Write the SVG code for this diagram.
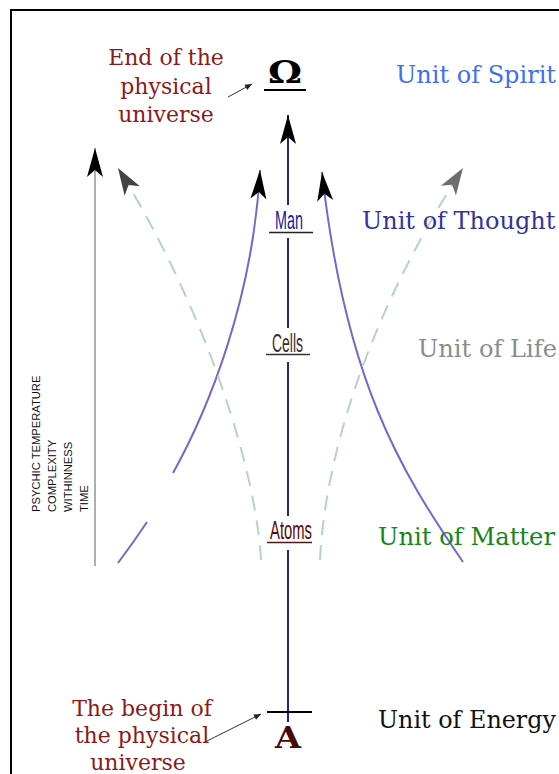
<svg xmlns="http://www.w3.org/2000/svg" width="559" height="774" viewBox="0 0 559 774">
<style>
.serif{font-family:"DejaVu Serif","Liberation Serif",serif}
.lbl{font-family:"DejaVu Serif","Liberation Serif",serif;font-size:22px;fill:#8b1a1a;text-anchor:middle}
.unit{font-family:"DejaVu Serif","Liberation Serif",serif;font-size:24px}
.node{font-family:"Liberation Sans","Arial",sans-serif;font-size:25px}
.axis{font-family:"Liberation Sans","Arial",sans-serif;font-size:11.2px;fill:#111}
.spine{stroke:#2d1e8c;stroke-width:2;fill:none}
.purple{stroke:#7766cc;stroke-width:2;fill:none}
.dash{stroke:#b4d3cb;stroke-width:2;fill:none;stroke-dasharray:15 10}
.thin{stroke:#333;stroke-width:1;fill:none}
</style>
<defs>
<marker id="ahBlack" markerUnits="userSpaceOnUse" viewBox="-30 -10 32 20" markerWidth="32" markerHeight="20" refX="0" refY="0" orient="auto">
<path d="M0,0 L-29,-8 L-22,0 L-29,8 Z" fill="#000"/>
</marker>
<marker id="ahDark" markerUnits="userSpaceOnUse" viewBox="-30 -10 32 20" markerWidth="32" markerHeight="20" refX="0" refY="0" orient="auto">
<path d="M0,0 L-27,-9 L-20,0 L-27,9 Z" fill="#444"/>
</marker>
<marker id="ahGray" markerUnits="userSpaceOnUse" viewBox="-30 -10 32 20" markerWidth="32" markerHeight="20" refX="0" refY="0" orient="auto">
<path d="M0,0 L-27,-9 L-20,0 L-27,9 Z" fill="#6e6e6e"/>
</marker>
<marker id="ahSmall" markerUnits="userSpaceOnUse" viewBox="-8 -4 9 8" markerWidth="9" markerHeight="8" refX="0" refY="0" orient="auto">
<path d="M0,0 L-7,-3 L-7,3 Z" fill="#222"/>
</marker>
</defs>
<rect width="559" height="774" fill="#fff"/>
<path d="M11,774 V10 H559" stroke="#000" stroke-width="2" fill="none"/>

<g id="connectors">
<path class="spine" d="M288,205 V115" marker-end="url(#ahBlack)"/>
<path class="spine" d="M288,238 V328"/>
<path class="spine" d="M288,362 V516"/>
<path class="spine" d="M288,550 V722"/>
<path d="M267,712 H312" stroke="#000" stroke-width="2"/>
<path d="M95,566 V148" stroke="#9a9a9a" stroke-width="1.6" fill="none" marker-end="url(#ahBlack)"/>
<path class="purple" d="M118,563 Q133,543 147,522"/>
<path class="purple" d="M173,473 C208,410 253,300 260,170" marker-end="url(#ahBlack)"/>
<path class="purple" d="M463,562 C400,470 345,380 322,172" marker-end="url(#ahBlack)"/>
<path class="dash" d="M261,560 C255,460 200,300 118,168" marker-end="url(#ahDark)"/>
<path class="dash" d="M320,560 C325,460 365,320 463,168" marker-end="url(#ahGray)"/>
<path class="thin" d="M228,97 L252,84" marker-end="url(#ahSmall)"/>
<path class="thin" d="M205,742 L261,714" marker-end="url(#ahSmall)"/>
</g>

<g id="omega">
<text class="serif" x="285" y="83" font-size="32" font-weight="bold" text-anchor="middle" textLength="34" lengthAdjust="spacingAndGlyphs">Ω</text>
<path d="M264,90 H306" stroke="#000" stroke-width="2"/>
</g>
<g id="alpha">
<text class="serif" x="288" y="748" font-size="29" font-weight="bold" fill="#4a0808" text-anchor="middle" textLength="26" lengthAdjust="spacingAndGlyphs">A</text>
</g>
<g id="man">
<text class="node" x="275" y="229" fill="#1a1a99" textLength="28" lengthAdjust="spacingAndGlyphs">Man</text>
<path d="M269,232.5 H313" stroke="#222" stroke-width="1.5"/>
</g>
<g id="cells">
<text class="node" x="272" y="352" fill="#3a2c2c" textLength="31" lengthAdjust="spacingAndGlyphs">Cells</text>
<path d="M266,354.5 H310" stroke="#333" stroke-width="1.5"/>
</g>
<g id="atoms">
<text class="node" x="270" y="539" fill="#5a0a0a" textLength="42" lengthAdjust="spacingAndGlyphs">Atoms</text>
<path d="M267,542.5 H312" stroke="#4a1a1a" stroke-width="1.5"/>
</g>
<g id="end-label">
<text class="lbl" x="166" y="65">End of the</text>
<text class="lbl" x="166" y="94">physical</text>
<text class="lbl" x="166" y="122">universe</text>
</g>
<g id="begin-label">
<text class="lbl" x="142" y="716">The begin of</text>
<text class="lbl" x="142" y="743">the physical</text>
<text class="lbl" x="138" y="770">universe</text>
</g>
<g id="axis-label">
<text class="axis" transform="translate(40,512) rotate(-90)"><tspan x="0" y="0">PSYCHIC TEMPERATURE</tspan><tspan x="0" y="16">COMPLEXITY</tspan><tspan x="0" y="32">WITHINNESS</tspan><tspan x="0" y="48">TIME</tspan></text>
</g>
<g id="units">
<text class="unit" x="396" y="83" fill="#3f6ff0" textLength="160" lengthAdjust="spacingAndGlyphs">Unit of Spirit</text>
<text class="unit" x="362" y="229" fill="#33339a" font-size="24.5">Unit of Thought</text>
<text class="unit" x="418" y="357" fill="#8c8c8c" textLength="139" lengthAdjust="spacingAndGlyphs">Unit of Life</text>
<text class="unit" x="378" y="545" fill="#14861a" textLength="177" lengthAdjust="spacingAndGlyphs">Unit of Matter</text>
<text class="unit" x="378" y="728" fill="#111" textLength="178" lengthAdjust="spacingAndGlyphs">Unit of Energy</text>
</g>
</svg>
